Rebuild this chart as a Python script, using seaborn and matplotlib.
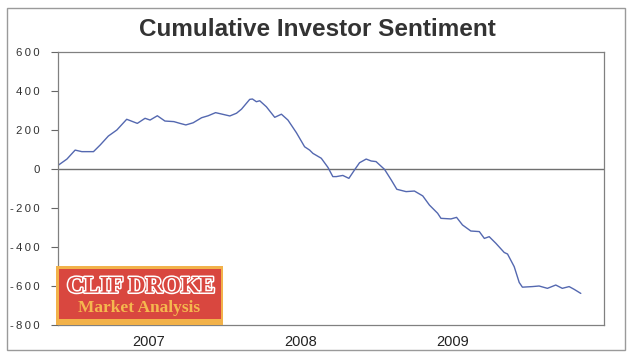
import matplotlib
matplotlib.use("Agg")
import matplotlib.pyplot as plt
import matplotlib.patheffects as pe
from matplotlib.patches import Rectangle
import seaborn as sns
import pandas as pd

# ---- data (decimal year, cumulative sentiment) ----
years = [2006.403, 2006.459, 2006.513, 2006.557, 2006.634, 2006.678, 2006.732, 2006.788,
         2006.853, 2006.923, 2006.974, 2007.007, 2007.055, 2007.105, 2007.164, 2007.204,
         2007.243, 2007.291, 2007.347, 2007.390, 2007.439, 2007.478, 2007.533, 2007.577,
         2007.610, 2007.664, 2007.682, 2007.708, 2007.730, 2007.774, 2007.829, 2007.873,
         2007.916, 2007.972, 2008.026, 2008.059, 2008.081, 2008.136, 2008.180, 2008.212,
         2008.235, 2008.278, 2008.318, 2008.355, 2008.388, 2008.432, 2008.465, 2008.497,
         2008.553, 2008.597, 2008.634, 2008.695, 2008.750, 2008.805, 2008.849, 2008.903,
         2008.925, 2008.991, 2009.028, 2009.067, 2009.122, 2009.178, 2009.211, 2009.243,
         2009.287, 2009.342, 2009.364, 2009.408, 2009.441, 2009.462, 2009.528, 2009.572,
         2009.627, 2009.682, 2009.725, 2009.770, 2009.803, 2009.847]
sentiment = [20, 51, 97, 89, 89, 123, 169, 200,
             255, 234, 260, 251, 273, 246, 243, 234,
             226, 237, 263, 273, 289, 282, 272, 286,
             307, 357, 359, 345, 350, 319, 265, 281,
             251, 186, 114, 97, 80, 55, 8, -39,
             -39, -33, -48, -5, 32, 51, 41, 38,
             -2, -56, -104, -116, -113, -138, -185, -227,
             -253, -256, -248, -287, -318, -321, -356, -347,
             -381, -428, -436, -501, -582, -606, -603, -600,
             -612, -595, -612, -603, -617, -638]
year_ticks = [2007, 2008, 2009]
year_labels = ["2007", "2008", "2009"]
y_ticks = [-800, -600, -400, -200, 0, 200, 400, 600]

df = pd.DataFrame({"year": years, "sentiment": sentiment})

sns.set_style("white")
plt.rcParams["font.family"] = ["Liberation Sans", "DejaVu Sans"]

fig = plt.figure(figsize=(6.39, 3.60), dpi=100)
fig.patch.set_facecolor("white")
ax = fig.add_axes([58 / 639, 1 - 325 / 360, (604 - 58) / 639, (325 - 52) / 360])

sns.lineplot(data=df, x="year", y="sentiment", ax=ax, color="#5468B0", linewidth=1.0)
ax.axhline(0, color="#707070", linewidth=1.0, zorder=1)

ax.set_xlim(2006.40, 2010.0)
ax.set_ylim(-800, 600)
ax.set_yticks(y_ticks)
spaced = ["\u2009".join(str(v)) for v in y_ticks]
ax.set_yticklabels(spaced, fontsize=8.2, color="#333333")
ax.set_xticks(year_ticks)
ax.set_xticklabels(year_labels, fontsize=10.5, color="#222222")
ax.tick_params(axis="y", direction="out", length=5, width=0.8, color="#666666", pad=8, left=True)
ax.tick_params(axis="x", length=0, pad=7)
ax.set_xlabel("")
ax.set_ylabel("")
for s in ax.spines.values():
    s.set_color("#808080")
    s.set_linewidth(0.9)

# title
fig.text(317 / 639, 1 - 29 / 360, "Cumulative Investor Sentiment", ha="center", va="center",
         fontsize=17.5, fontweight="bold", color="#333333", family="Liberation Sans")

# outer border
fig.add_artist(Rectangle((7 / 639, 1 - 350 / 360), (625 - 7) / 639, (350 - 8) / 360,
                         transform=fig.transFigure, fill=False, edgecolor="#9a9a9a", linewidth=1.0))

# logo
fig.add_artist(Rectangle((56 / 639, 1 - 325 / 360), (223 - 56) / 639, (325 - 266) / 360,
                         transform=fig.transFigure, facecolor="#F2B24A", edgecolor="none", zorder=5))
fig.add_artist(Rectangle((59 / 639, 1 - 319 / 360), (221 - 59) / 639, (319 - 269) / 360,
                         transform=fig.transFigure, facecolor="#D9473F", edgecolor="none", zorder=6))
fig.text(141 / 639, 1 - 287 / 360, "CLIF DROKE", ha="center", va="center", fontsize=17,
         family="Liberation Serif", fontweight="bold", color="#D9473F", zorder=7,
         path_effects=[pe.withStroke(linewidth=2.2, foreground="white")])
fig.text(139 / 639, 1 - 308 / 360, "Market Analysis", ha="center", va="center", fontsize=12.5,
         family="Liberation Serif", fontweight="bold", color="#F5B84E", zorder=7)

fig.savefig("out.png", dpi=100)
